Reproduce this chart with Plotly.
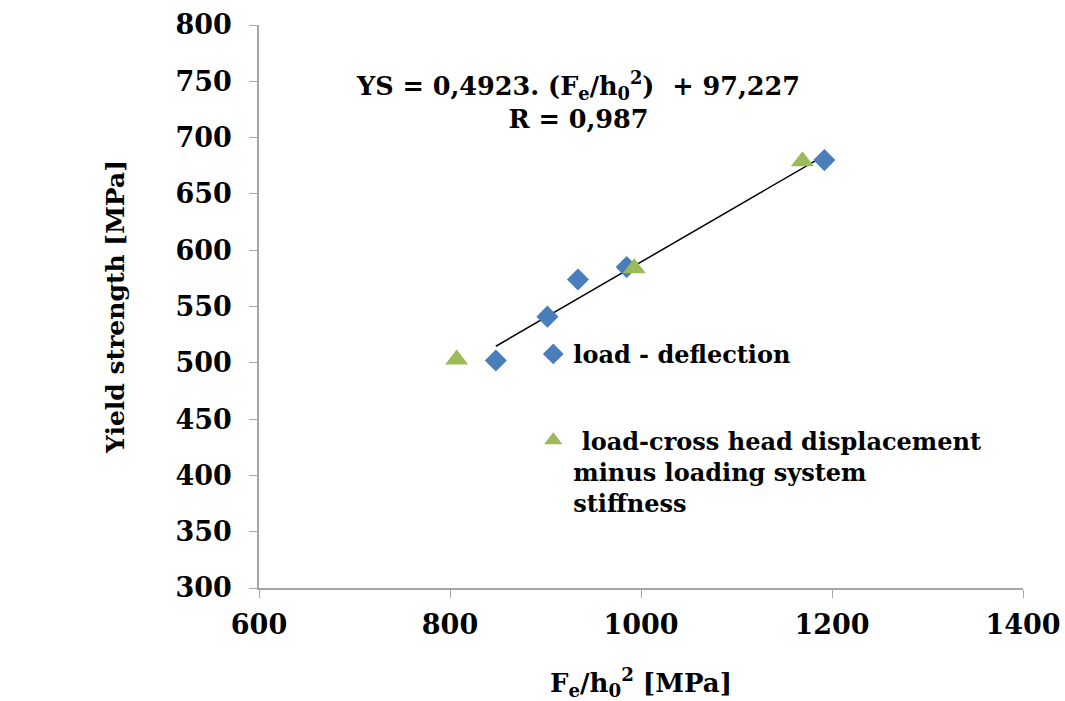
import plotly.graph_objects as go

# Data
ld_x = [848, 902, 934, 985, 1192]
ld_y = [502, 541, 574, 585, 680]
ch_x = [807, 993, 1169]
ch_y = [503, 584, 679]

# Linear fit shown on the chart: YS = 0.4923 * (Fe/h0^2) + 97.227
fit_slope = 0.4923
fit_intercept = 97.227
fit_x = [848, 1192]
fit_y = [fit_slope * v + fit_intercept for v in fit_x]

x_ticks = [600, 800, 1000, 1200, 1400]
y_ticks = [300, 350, 400, 450, 500, 550, 600, 650, 700, 750, 800]

FONT = "DejaVu Serif"
AXIS_COLOR = "#a6a6a6"

fig = go.Figure()

fig.add_trace(go.Scatter(
    x=fit_x, y=fit_y, mode="lines",
    line=dict(color="black", width=1.5),
    showlegend=False, hoverinfo="skip",
))
fig.add_trace(go.Scatter(
    x=ld_x, y=ld_y, mode="markers", name="load - deflection",
    marker=dict(symbol="diamond", size=17, color="#4a7ebb"),
    legendgroup="a",
))
fig.add_trace(go.Scatter(
    x=ch_x, y=ch_y, mode="markers",
    name=" load-cross head displacement<br>minus loading system<br>stiffness",
    marker=dict(symbol="triangle-up", size=20, color="#9bbb59"),
    legendgroup="b",
))

fig.add_annotation(
    x=934, y=733, xref="x", yref="y", showarrow=False,
    text="YS = 0,4923. (F<sub>e</sub>/h<sub>0</sub><sup>2</sup>)  + 97,227<br>R = 0,987",
    font=dict(family=FONT, size=25.5, color="black", weight="bold"),
    align="center",
)

fig.update_layout(
    width=1065, height=701,
    margin=dict(l=259, r=42, t=25, b=113),
    paper_bgcolor="white", plot_bgcolor="white",
    font=dict(family=FONT, color="black", weight="bold"),
    showlegend=True,
    legend=dict(
        x=0.359, y=0.455, xanchor="left", yanchor="top",
        font=dict(family=FONT, size=24, color="black", weight="bold"),
        bgcolor="rgba(0,0,0,0)", tracegroupgap=52,
        itemwidth=30, valign="top",
    ),
    xaxis=dict(
        range=[600, 1400], tickvals=x_ticks, ticks="outside", ticklen=8,
        tickcolor=AXIS_COLOR, showline=True, linecolor=AXIS_COLOR, linewidth=1.5,
        showgrid=False, zeroline=False, ticklabelstandoff=4, automargin=False,
        tickfont=dict(family=FONT, size=27, color="black", weight="bold"),
        title=dict(text="F<sub>e</sub>/h<sub>0</sub><sup>2</sup> [MPa]",
                   font=dict(family=FONT, size=26, color="black", weight="bold"),
                   standoff=35),
    ),
    yaxis=dict(
        range=[300, 800], tickvals=y_ticks, ticks="outside", ticklen=8,
        tickcolor=AXIS_COLOR, showline=True, linecolor=AXIS_COLOR, linewidth=1.5,
        showgrid=False, zeroline=False, ticklabelstandoff=12, automargin=False,
        tickfont=dict(family=FONT, size=27, color="black", weight="bold"),
        title=dict(text="Yield strength [MPa]",
                   font=dict(family=FONT, size=25, color="black", weight="bold"),
                   standoff=44),
    ),
)

fig.write_html(
    "out.html",
    config={"displayModeBar": False},
    post_script="document.body.style.margin='0';document.body.style.overflow='hidden';",
)
